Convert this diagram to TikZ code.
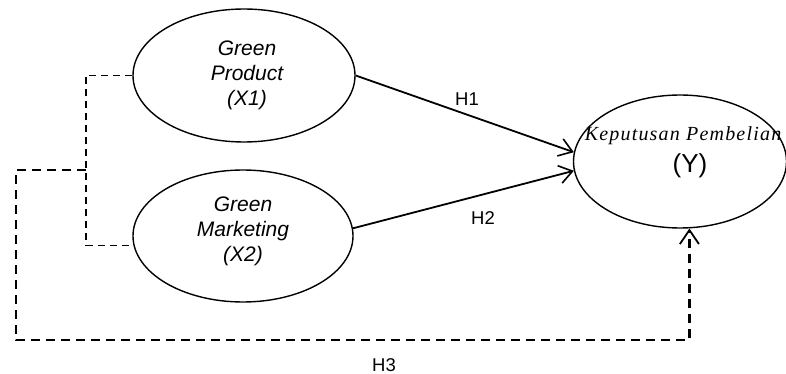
\documentclass[tikz,border=0pt]{standalone}
\usepackage{fontspec}
\setmainfont{Liberation Sans}
\newfontfamily\tnr[LetterSpace=6]{Liberation Serif}
\usetikzlibrary{arrows.meta,shapes.geometric}
\tikzset{
  construct/.style={ellipse, draw, line width=1.4pt, inner sep=0pt},
  ctext/.style={align=center, font=\fontsize{21}{25}\selectfont\itshape},
  hlabel/.style={font=\fontsize{18.5}{20}\selectfont},
  path/.style={line width=1.8pt, -{Straight Barb[length=13pt,width=18pt,line width=1.6pt]}},
  covar/.style={line width=1.3pt, dash pattern=on 7pt off 5pt},
  direct/.style={line width=2.2pt, dash pattern=on 9pt off 6pt, -{Straight Barb[length=14pt,width=19pt,line width=1.8pt]}}
}
\begin{document}
\begin{tikzpicture}[x=1pt,y=-1pt]
\useasboundingbox (0,0) rectangle (786,374);
% constructs
\node[construct, minimum width=222pt, minimum height=133pt] (x1) at (244,75.5) {};
\node[construct, minimum width=220pt, minimum height=132pt] (x2) at (243,236) {};
\node[construct, minimum width=213pt, minimum height=133pt] (y) at (680,161.5) {};
\node[ctext] (x1t) at (247,75) {Green\\Product\\(X1)};
\node[ctext] (x2t) at (243,231) {Green\\Marketing\\(X2)};
\node[font=\fontsize{20}{20}\selectfont\tnr\itshape, anchor=base] (yt1) at (683,141) {Keputusan Pembelian};
\node[font=\fontsize{26}{26}\selectfont] (yt2) at (690,166) {(Y)};
% paths
\draw[path] (x1.east) -- (y.175);
\draw[path] (x2.4) -- (y.185);
\node[hlabel] (h1) at (467,99) {H1};
\node[hlabel] (h2) at (483,218) {H2};
% dashed connectors
\coordinate (j) at (86,170);
\coordinate (tl) at (16,170);
\coordinate (bl) at (16,340);
\draw[covar] (x1.west) -| (j) |- (x2.185);
\draw[direct] (j) -- (tl) -- (bl) -| (y.278);
\node[hlabel] (h3) at (384,365) {H3};
\end{tikzpicture}
\end{document}
